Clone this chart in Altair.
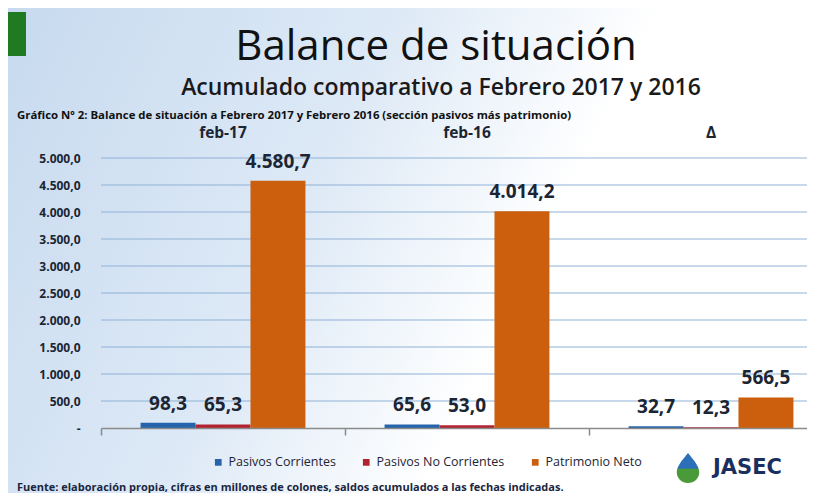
import altair as alt
import pandas as pd

groups = ["feb-17", "feb-16", "Δ"]
series = ["Pasivos Corrientes", "Pasivos No Corrientes", "Patrimonio Neto"]
pasivos_corrientes = [98.3, 65.6, 32.7]
pasivos_no_corrientes = [65.3, 53.0, 12.3]
patrimonio_neto = [4580.7, 4014.2, 566.5]
colors = ["#2563ad", "#b3222f", "#cc5f0e"]
y_ticks = [0, 500, 1000, 1500, 2000, 2500, 3000, 3500, 4000, 4500, 5000]


def es_fmt(v):
    s = f"{v:,.1f}"
    return s.replace(",", "#").replace(".", ",").replace("#", ".")


rows = []
for s, vals in zip(series, [pasivos_corrientes, pasivos_no_corrientes, patrimonio_neto]):
    for g, v in zip(groups, vals):
        rows.append({"group": g, "series": s, "value": v, "label": es_fmt(v)})
df = pd.DataFrame(rows)

FONT = "Open Sans"
W, H = 705, 270
X_RANGE = [0, 732]

y_scale = alt.Scale(domain=[0, 5000], nice=False)
x_scale = alt.Scale(paddingInner=0, paddingOuter=0, range=X_RANGE)

y_axis = alt.Axis(values=y_ticks, title=None, ticks=False, domain=False, grid=False,
                  zindex=2,
                  labelExpr="datum.value == 0 ? '-' : replace(replace(replace(format(datum.value, ',.1f'), ',', '#'), '.', ','), '#', '.')",
                  labelFont=FONT, labelFontWeight="bold", labelFontSize=12,
                  labelColor="#1c2533", labelPadding=21)

x_enc = alt.X("group:N", sort=groups, scale=x_scale,
              axis=alt.Axis(orient="bottom", labels=False, title=None, ticks=True, tickSize=7,
                            bandPosition=0, domainColor="#8a8a8a", tickColor="#8a8a8a",
                            domainWidth=1.5, tickWidth=1.5, zindex=2, grid=False))
xoff = alt.XOffset("series:N", sort=series, scale=alt.Scale(paddingInner=0, paddingOuter=0.72))
y_enc = alt.Y("value:Q", scale=y_scale, axis=y_axis)

bg = alt.Chart(pd.DataFrame({"k": [0]})).mark_rect(
    fill=alt.LinearGradient(gradient="linear", x1=0, y1=0, x2=1, y2=0.3,
                            stops=[alt.GradientStop(color="#c7daef", offset=0),
                                   alt.GradientStop(color="#dde9f6", offset=0.45),
                                   alt.GradientStop(color="#ffffff", offset=0.75)])
).encode(x=alt.value(-93), x2=alt.value(706), y=alt.value(-150), y2=alt.value(335))

green = alt.Chart(pd.DataFrame({"k": [0]})).mark_rect(fill="#1f7a22").encode(
    x=alt.value(-93), x2=alt.value(-75), y=alt.value(-146), y2=alt.value(-102))

grid = alt.Chart(pd.DataFrame({"tick": y_ticks[1:]})).mark_rule(color="#8fb1d6", strokeWidth=1).encode(
    y=alt.Y("tick:Q", scale=y_scale, axis=y_axis), x=alt.value(0), x2=alt.value(720))

bars = alt.Chart(df).mark_bar().encode(
    x=x_enc, xOffset=xoff, y=y_enc,
    color=alt.Color("series:N", sort=series, scale=alt.Scale(domain=series, range=colors),
                    legend=alt.Legend(orient="none", legendX=111, legendY=298, direction="horizontal",
                                      title=None, symbolType="square", symbolSize=45,
                                      labelFont=FONT, labelFontSize=12.5, labelColor="#1c2533",
                                      columnPadding=24, symbolOffset=0, labelOffset=4)),
)

labels = alt.Chart(df).mark_text(font=FONT, fontWeight="bold", fontSize=19, color="#1c2533",
                                 baseline="middle", dy=-19).encode(
    x=alt.X("group:N", sort=groups), xOffset=alt.XOffset("series:N", sort=series),
    y=alt.Y("value:Q", scale=y_scale, axis=y_axis), text="label:N")

headers = alt.Chart(pd.DataFrame({"group": groups})).mark_text(
    font=FONT, fontWeight="bold", fontSize=15.5, color="#1c2533", baseline="middle").encode(
    x=alt.X("group:N", sort=groups), y=alt.value(-25), text="group:N")


def txt(t, x, y, size, weight="normal", align="left", color="#111111", font=FONT):
    return alt.Chart(pd.DataFrame({"t": [t]})).mark_text(
        font=font, fontSize=size, fontWeight=weight, align=align, baseline="middle", color=color,
        limit=0
    ).encode(x=alt.value(x), y=alt.value(y), text="t:N")


title = txt("Balance de situación", 335, -111, 42, "normal", "center", "#111111")
subtitle = txt("Acumulado comparativo a Febrero 2017 y 2016", 340, -70, 23, 600, "center", "#1a1a1a")
caption = txt("Gráfico Nº 2: Balance de situación a  Febrero 2017 y Febrero 2016 (sección pasivos más patrimonio)",
              -84, -42, 11.4, "bold", "left", "#111111")
source = txt("Fuente: elaboración propia, cifras en millones de colones, saldos acumulados a las fechas indicadas.",
             -84, 330, 11, "bold", "left", "#1a2540")
jasec = txt("JASEC", 612, 310, 21, "bold", "left", "#1b2f5e", "DejaVu Sans")

drop_path = "M0,-1 C0.35,-0.55 0.75,-0.15 0.75,0.3 A0.75,0.7 0 1 1 -0.75,0.3 C-0.75,-0.15 -0.35,-0.55 0,-1 Z"
drop = alt.Chart(pd.DataFrame({"k": [0]})).mark_point(
    shape=drop_path, filled=True, size=900, opacity=1,
    fill=alt.LinearGradient(gradient="linear", x1=0, y1=0, x2=0, y2=1,
                            stops=[alt.GradientStop(color="#2a6fb8", offset=0),
                                   alt.GradientStop(color="#2a6fb8", offset=0.5),
                                   alt.GradientStop(color="#4a9a3a", offset=0.55),
                                   alt.GradientStop(color="#4a9a3a", offset=1)]),
    ).encode(x=alt.value(587), y=alt.value(310))

chart = alt.layer(bg, green, grid, bars, labels, headers, title, subtitle, caption, source, jasec, drop).properties(
    width=W, height=H,
    padding={"left": 93, "top": 150, "right": 1, "bottom": 65},
    autosize=alt.AutoSizeParams(type="none"),
).configure_view(stroke=None).configure(background="#ffffff")

chart.save("out.html", embed_options={"renderer": "svg", "actions": False})
